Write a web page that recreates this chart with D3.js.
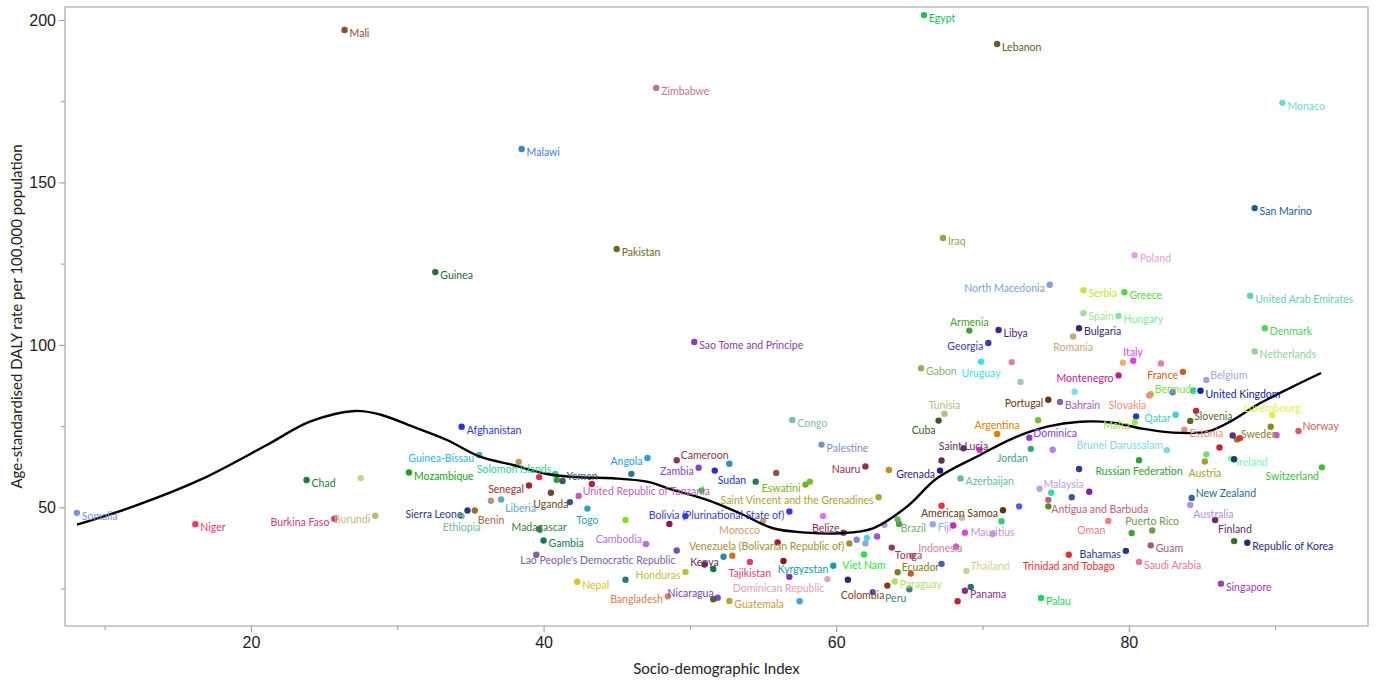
<!DOCTYPE html>
<html>
<head>
<meta charset="utf-8">
<script src="https://cdn.jsdelivr.net/npm/d3@7"></script>
<style>
  body { margin: 0; background: #fff; }
  svg { display: block; font-family: Lato, "Open Sans", sans-serif; }
  .tick text { fill: #222; }
</style>
</head>
<body>
<svg id="chart" width="1380" height="682"></svg>
<script>
// country names ('' = point drawn without a label)
var countries = [
  "Somalia","Niger","Chad","","Burkina Faso","Burundi","Mali","Guinea","Malawi","Pakistan",
  "Zimbabwe","Sao Tome and Principe","Afghanistan","Egypt","Lebanon","Iraq","Monaco","San Marino","Poland","North Macedonia",
  "Serbia","Greece","Spain","Hungary","Armenia","Libya","Bulgaria","Georgia","Romania","",
  "Uruguay","Gabon","","Italy","","France","","Montenegro","","Bermuda",
  "Slovakia","","","United Kingdom","Belgium","Netherlands","Denmark","United Arab Emirates","","Malta",
  "Qatar","","Slovenia","Estonia","Luxembourg","","Sweden","","","",
  "Norway","Switzerland","Ireland","","","","Austria","Brunei Darussalam","Russian Federation","New Zealand",
  "Australia","Finland","Republic of Korea","","Puerto Rico","","Guam","Bahamas","Saudi Arabia","Singapore",
  "Oman","Trinidad and Tobago","Antigua and Barbuda","","Malaysia","","","","","American Samoa",
  "","","","","Mauritius","","Fiji","","Indonesia","",
  "Thailand","Panama","","","Palau","Azerbaijan","Jordan","Dominica","","",
  "Argentina","Saint Lucia","","","Grenada","","Cuba","Tunisia","Portugal","Bahrain",
  "Brazil","","","Tonga","Ecuador","","","Paraguay","Peru","Colombia",
  "","Congo","Palestine","Nauru","Cameroon","Angola","","Zambia","Sudan","",
  "","Eswatini","","United Republic of Tanzania","","","Saint Vincent and the Grenadines","Bolivia (Plurinational State of)","","Morocco",
  "","","Belize","","","","","Venezuela (Bolivarian Republic of)","","Kenya",
  "","","","","Tajikistan","","Kyrgyzstan","","Viet Nam","Dominican Republic",
  "","Guatemala","","Nicaragua","","Bangladesh","Honduras","Guinea-Bissau","","Solomon Islands",
  "","","Yemen","","Mozambique","Senegal","Uganda","","Togo","Sierra Leone",
  "Benin","Liberia","","Ethiopia","Madagascar","Gambia","Lao People's Democratic Republic","Cambodia","Nepal","",
  ""
];

// socio-demographic index (x)
var sdi = [
  8.1,16.2,23.8,27.5,25.7,28.5,26.4,32.6,38.5,45.0,
  47.7,50.3,34.4,66.0,71.0,67.3,90.5,88.6,80.4,74.6,
  76.9,79.7,76.9,79.3,69.1,71.1,76.6,70.4,76.2,72.0,
  69.9,65.8,72.6,80.3,79.6,83.7,82.2,79.3,76.3,81.5,
  81.4,83.0,84.4,84.9,85.3,88.6,89.3,88.3,80.5,80.4,
  83.2,84.6,84.2,83.8,89.8,89.7,87.4,87.6,87.1,90.1,
  91.6,93.2,87.0,87.2,86.2,85.3,85.2,82.6,80.7,84.3,
  84.2,85.9,88.1,87.2,81.6,80.2,81.5,79.8,80.7,86.3,
  78.6,75.9,74.5,74.5,73.9,74.7,77.3,76.1,76.6,71.4,
  72.5,71.3,67.2,68.6,70.7,68.8,66.6,68.0,65.2,68.2,
  68.9,68.8,69.2,68.3,74.0,68.5,73.3,73.2,73.8,74.8,
  71.0,68.7,69.8,67.2,67.1,63.6,67.0,67.4,74.5,75.3,
  64.2,64.3,63.3,63.8,64.2,65.1,67.2,64.0,65.0,63.5,
  62.5,57.0,59.0,62.0,49.1,47.1,52.7,50.6,51.7,55.9,
  54.5,57.9,58.2,42.4,43.3,50.8,62.9,56.8,49.7,55.0,
  48.6,59.1,60.5,61.4,62.0,62.1,62.8,60.9,56.0,51.0,
  51.6,52.3,52.9,49.1,54.1,56.4,59.8,56.8,61.9,59.4,
  60.8,52.7,57.5,51.9,51.6,48.5,49.7,35.6,38.3,40.8,
  40.9,39.7,41.3,46.0,30.8,39.0,40.5,41.8,43.0,34.8,
  35.3,37.1,36.4,34.4,39.7,40.0,39.5,47.0,42.3,45.6,
  45.6
];

// age-standardised DALY rate per 100,000 (y)
var daly = [
  48.3,44.8,58.4,59.0,46.5,47.4,196.9,122.4,160.3,129.5,
  179.1,100.9,74.8,201.5,192.6,132.9,174.5,142.1,127.6,118.5,
  116.8,116.2,109.8,108.9,104.4,104.6,105.1,100.6,102.6,94.7,
  94.8,92.8,88.6,95.1,94.5,91.7,94.3,90.6,85.6,84.8,
  84.4,85.4,85.9,85.9,89.2,98.0,105.1,115.1,78.0,76.2,
  78.5,79.7,76.6,73.9,78.4,74.8,70.9,71.3,72.1,72.2,
  73.5,62.3,65.0,64.8,68.4,66.3,64.1,67.6,64.5,52.9,
  50.7,46.1,39.1,39.6,42.9,42.1,38.3,36.6,33.2,26.5,
  45.8,35.4,52.3,50.3,55.7,54.5,54.8,53.1,61.8,49.1,
  50.3,45.7,50.5,46.8,41.8,42.2,44.8,44.4,35.0,37.9,
  30.4,24.3,25.5,21.1,22.1,58.9,68.0,71.4,76.8,67.7,
  72.6,68.2,67.7,64.4,61.3,61.5,76.7,78.8,83.1,82.4,
  46.3,44.9,44.6,37.6,30.0,29.6,32.6,27.2,24.8,25.9,
  23.9,76.9,69.3,62.6,64.5,65.2,63.4,62.2,61.3,60.6,
  57.9,57.0,57.9,53.5,57.2,55.2,53.1,48.7,47.3,45.8,
  44.9,47.3,42.2,40.0,38.9,40.6,41.0,38.9,39.2,32.4,
  31.0,34.8,35.1,36.7,33.2,33.5,32.0,28.6,35.5,27.9,
  27.7,21.2,21.1,22.2,21.7,22.6,30.1,66.1,64.0,60.3,
  58.5,59.3,58.1,60.3,60.7,56.7,54.5,51.6,49.6,49.0,
  49.0,52.4,52.0,47.3,43.3,39.8,35.4,38.7,27.1,27.7,
  46.1
];

// one colour per country point (label uses the same colour)
var pointColours = [
  "#8090e0","#e83a6a","#1a7a40","#c8d090","#d03a80","#c0b878","#8b4a3a","#2a6a3a","#4080d8","#6a6a20",
  "#c87090","#8a40a8","#3030d0","#20c050","#6a5a2a","#90a848","#70d8d0","#1a5aa0","#e0a0e0","#80a0d8",
  "#c0e840","#50d840","#a0e0a0","#80e8a0","#40a030","#4a2090","#3a2a6a","#3a3ab8","#c8a878","#e080b0",
  "#40e0e8","#90b070","#a0c8b0","#e040e0","#f0b070","#d05a20","#e080b0","#c02090","#80d8e0","#80e040",
  "#f09070","#7070d0","#20c0c0","#1020b0","#a0a8d8","#90d0a0","#50d060","#60d0b8","#2040b0","#a0e050",
  "#40d0d0","#c02050","#5a6a2a","#e09080","#e0f050","#8a8a20","#8a7a2a","#e03030","#603080","#e050e0",
  "#d06060","#40c040","#80f0b0","#2a3a6a","#d02030","#80d870","#a0a030","#80d8e0","#30a030","#2a6a8a",
  "#b090f0","#6a2a6a","#2a2a7a","#3a6a2a","#6a9a4a","#40a040","#a05a80","#1a3a8a","#e07a90","#a040b0",
  "#f08080","#e83030","#c06080","#5a8a2a","#c0a0e0","#30e0a0","#8020b0","#3a5a9a","#2a3aa0","#5a3a10",
  "#4060f0","#30d060","#f03040","#d0b8a8","#c890d8","#e040e0","#90a8f0","#d020c0","#d080a0","#c060c0",
  "#d0d090","#803090","#306a6a","#c02040","#20d060","#60c090","#40a090","#8040e0","#70c030","#b080f0",
  "#e08000","#603060","#e030c0","#603050","#2a1a9a","#c09020","#3a5a2a","#b0c080","#6a3a10","#9060b0",
  "#70b070","#50a050","#a0a0e0","#9a3a5a","#808020","#c06020","#4060c0","#b0e070","#40808a","#8a3a1a",
  "#4060c0","#80c0a8","#8090c0","#9a2a5a","#8a3a4a","#2a9af0","#3090c0","#8a40d0","#2a2ad0","#8a5a3a",
  "#2a7a5a","#80b020","#70c040","#c060b0","#c02040","#30d030","#b0a030","#3a3ae0","#2040f0","#d0a060",
  "#8a1a4a","#e070f0","#8a2a5a","#9080e0","#a0a0d0","#50d0f0","#a050e0","#a09030","#a01a3a","#6a2a5a",
  "#107a40","#308a90","#c07a20","#7050b0","#e03a7a","#8a1a1a","#10a0a0","#8030b0","#30e040","#e0a0b8",
  "#2a2a6a","#c0a040","#40a0f0","#8040c0","#5a5a2a","#e07a50","#c0c040","#30b8e0","#b09a60","#30d090",
  "#30a030","#e03050","#3a5a6a","#2a7a8a","#20a020","#a02a2a","#6a4a2a","#2a5a8a","#30a0c0","#2a3a7a",
  "#a06a3a","#60a8c8","#b09a78","#70c090","#3a7a4a","#107a5a","#8060a0","#b070e0","#e0c020","#2a7a6a",
  "#80e020"
];

// fitted smooth trend
var trendSdi  = [8.11,11.93,16.51,21.09,24.03,27.11,28.82,31.07,33.4,35.65,37.91,40.23,42.49,44.74,47.07,48.84,
                 51.17,53.42,55.68,58.0,60.26,62.52,64.84,66.89,69.83,72.08,74.41,76.66,78.92,80.77,83.02,85.34,
                 86.92,88.76,91.02,93.14];
var trendDaly = [44.66,50.2,58.42,69.19,76.36,79.66,78.58,74.82,70.73,65.59,63.03,60.26,59.25,58.94,57.9,55.34,
                 52.26,48.17,43.55,42.2,42.01,43.55,50.2,58.94,66.11,71.25,74.82,76.36,76.05,74.33,72.98,73.28,
                 76.36,81.5,86.73,91.35];

var xMajor = [20, 40, 60, 80],   xMinor = [10, 30, 50, 70, 90];
var yMajor = [50, 100, 150, 200], yMinor = [25, 75, 125, 175];

// where each label sits relative to its point (default: right); arrays are [dx, dy, anchor]
var labelSide = {
  "Burkina Faso":"l","Burundi":"l","North Macedonia":"l","Armenia":"a","Georgia":"l","Romania":"b","Uruguay":"b",
  "Italy":"a","France":"l","Montenegro":"l","Bermuda":"ar","Slovakia":"bl","Belgium":"ar","Malta":"l","Qatar":"l",
  "Slovenia":"ar","Luxembourg":[0,-3,"middle"],"Sweden":"ar","Norway":"ar","Switzerland":"bl","Austria":"b",
  "Brunei Darussalam":"al","Russian Federation":"b","New Zealand":"ar","Australia":"br","Finland":"br",
  "Puerto Rico":"a","Bahamas":"l","Oman":"bl","Trinidad and Tobago":"b","Antigua and Barbuda":"br",
  "Malaysia":"ar","American Samoa":"l","Mauritius":"c","Indonesia":[6,-4,"start"],"Thailand":"ar","Jordan":"bl",
  "Dominica":"ar","Argentina":"a","Saint Lucia":"c","Grenada":"l","Cuba":"bl","Tunisia":"a","Portugal":"l",
  "Brazil":"br","Tonga":[3,11,"start"],"Ecuador":"ar","Peru":"bl","Colombia":"bl","Nauru":"l","Cameroon":"ar",
  "Angola":"l","Zambia":"l","Sudan":"br","Eswatini":"l","United Republic of Tanzania":"ar",
  "Saint Vincent and the Grenadines":"l","Bolivia (Plurinational State of)":"l","Morocco":"bl","Belize":"al",
  "Venezuela (Bolivarian Republic of)":"l","Kenya":"c","Tajikistan":"b","Kyrgyzstan":"l","Viet Nam":"b",
  "Dominican Republic":"bl","Nicaragua":"al","Bangladesh":"l","Honduras":"l","Guinea-Bissau":"l",
  "Solomon Islands":"al","Yemen":"ar","Senegal":"l","Uganda":"b","Togo":"b","Sierra Leone":"l","Benin":"br",
  "Liberia":[4,12,"start"],"Ethiopia":"b","Madagascar":"c","Lao People's Democratic Republic":[-16,9,"start"],
  "Cambodia":"al"
};
var sideOffset = {
  r:[5,7,"start"], l:[-5,7,"end"], ar:[4,-1,"start"], al:[-4,-1,"end"],
  br:[3,13,"start"], bl:[-3,13,"end"], a:[0,-5,"middle"], b:[0,15,"middle"], c:[0,2,"middle"]
};

var svg = d3.select("#chart");
var pLeft = 65, pRight = 1368, pTop = 7, pBottom = 626;

var x = d3.scaleLinear().domain([7.29, 96.35]).range([pLeft, pRight]);
var y = d3.scaleLinear().domain([13.47, 204.0]).range([pBottom, pTop]);

// minor ticks first, then major axes with labels
svg.append("g").attr("transform", "translate(0," + pBottom + ")")
    .call(d3.axisBottom(x).tickValues(xMinor).tickSize(4).tickFormat(""))
    .call(g => g.select(".domain").remove())
    .call(g => g.selectAll("line").attr("stroke", "#999"));
svg.append("g").attr("transform", "translate(" + pLeft + ",0)")
    .call(d3.axisLeft(y).tickValues(yMinor).tickSize(4).tickFormat(""))
    .call(g => g.select(".domain").remove())
    .call(g => g.selectAll("line").attr("stroke", "#999"));

svg.append("g").attr("transform", "translate(0," + pBottom + ")")
    .call(d3.axisBottom(x).tickValues(xMajor).tickSize(6).tickPadding(5))
    .call(g => g.select(".domain").remove())
    .call(g => g.selectAll("line").attr("stroke", "#999"))
    .call(g => g.selectAll("text").style("font-size", "16px"));
svg.append("g").attr("transform", "translate(" + pLeft + ",0)")
    .call(d3.axisLeft(y).tickValues(yMajor).tickSize(6).tickPadding(3))
    .call(g => g.select(".domain").remove())
    .call(g => g.selectAll("line").attr("stroke", "#999"))
    .call(g => g.selectAll("text").style("font-size", "16px"));

svg.append("rect")
    .attr("x", pLeft).attr("y", pTop)
    .attr("width", pRight - pLeft).attr("height", pBottom - pTop)
    .attr("fill", "none").attr("stroke", "#aaa").attr("stroke-width", 1.2);

svg.append("text")
    .attr("x", (pLeft + pRight) / 2).attr("y", 674)
    .attr("text-anchor", "middle").style("font-size", "15px").attr("fill", "#222")
    .text("Socio-demographic Index");
svg.append("text")
    .attr("transform", "translate(22," + (pTop + pBottom) / 2 + ") rotate(-90)")
    .attr("text-anchor", "middle").style("font-size", "15px").attr("fill", "#222")
    .text("Age-standardised DALY rate per 100,000 population");

var pts = countries.map(function(c, i) {
    return { name: c, sdi: sdi[i], daly: daly[i], colour: pointColours[i] };
});

var plot = svg.append("g");

plot.selectAll("circle")
    .data(pts)
  .enter().append("circle")
    .attr("cx", d => x(d.sdi))
    .attr("cy", d => y(d.daly))
    .attr("r", 3.2)
    .attr("fill", d => d.colour);

plot.append("path")
    .datum(trendSdi.map((s, i) => [s, trendDaly[i]]))
    .attr("fill", "none")
    .attr("stroke", "#000")
    .attr("stroke-width", 2.4)
    .attr("d", d3.line().x(d => x(d[0])).y(d => y(d[1])).curve(d3.curveCatmullRom));

plot.selectAll("text.lab")
    .data(pts.filter(d => d.name != ""))
  .enter().append("text")
    .attr("class", "lab")
    .each(function(d) {
        var side = labelSide[d.name] || "r";
        var o = Array.isArray(side) ? side : sideOffset[side];
        d3.select(this)
            .attr("x", x(d.sdi) + o[0])
            .attr("y", y(d.daly) + o[1])
            .attr("text-anchor", o[2]);
    })
    .style("font-size", "10.5px")
    .attr("fill", d => d.colour)
    .text(d => d.name);
</script>
</body>
</html>
